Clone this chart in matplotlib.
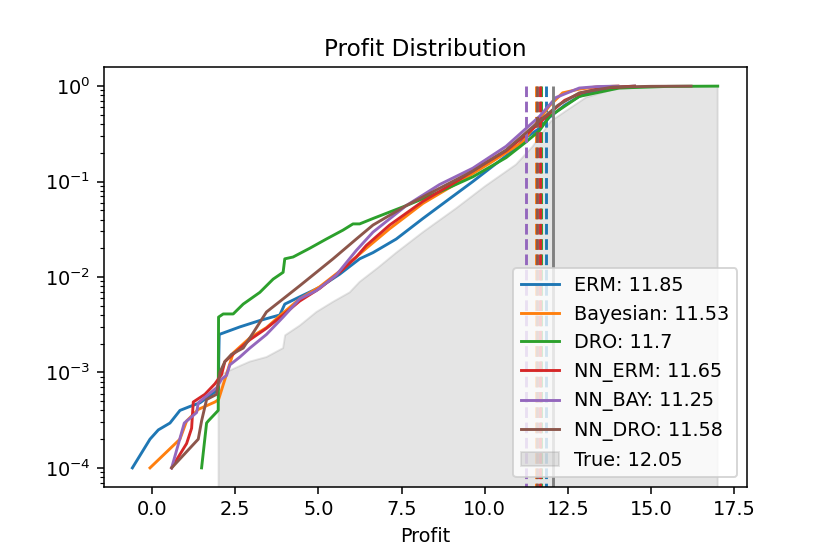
import numpy as np
import matplotlib
matplotlib.use("Agg")
import matplotlib.pyplot as plt

erm_x = [-0.59, -0.06, 0.19, 0.54, 0.84, 1.14, 1.44, 1.79, 1.99, 2.02, 2.64, 3.24, 3.84, 3.99,
         4.44, 5.04, 5.64, 6.24, 6.64, 7.34, 8.14, 8.94, 9.64, 10.24, 10.84, 11.24, 11.64,
         11.94, 12.4, 12.84, 13.3, 13.8, 14.5]
erm_y = [1.0e-4, 2.0e-4, 2.5e-4, 2.95e-4, 4.0e-4, 4.4e-4, 4.8e-4, 5.9e-4, 6.6e-4, 2.5e-3, 3.0e-3,
         3.5e-3, 4.0e-3, 5.2e-3, 6.2e-3, 7.8e-3, 0.0107, 0.0155, 0.018, 0.025, 0.041, 0.066,
         0.10, 0.145, 0.21, 0.29, 0.36, 0.47, 0.63, 0.78, 0.89, 0.97, 1.0]

bay_x = [-0.06, 0.84, 1.04, 1.39, 1.89, 2.0, 2.44, 2.94, 3.44, 3.94, 4.44, 5.04, 5.64, 6.44,
         7.14, 8.14, 9.14, 10.14, 11.14, 11.44, 11.94, 12.34, 12.84, 13.34, 14.0]
bay_y = [1.0e-4, 2.0e-4, 3.1e-4, 4.1e-4, 4.9e-4, 5.2e-4, 1.6e-3, 2.3e-3, 2.95e-3, 4.2e-3,
         5.9e-3, 7.9e-3, 0.0115, 0.020, 0.032, 0.059, 0.095, 0.155, 0.26, 0.36, 0.62, 0.85,
         0.93, 0.98, 1.0]

dro_x = [1.49, 1.64, 1.69, 1.99, 2.0, 2.14, 2.44, 2.74, 3.24, 3.64, 3.94, 3.99, 4.24, 4.74,
         5.24, 5.74, 6.04, 6.24, 6.64, 7.64, 8.64, 9.64, 10.64, 11.24, 11.64, 11.94, 12.84,
         14.04, 15.5, 17.0]
dro_y = [1.0e-4, 2.95e-4, 3.1e-4, 4.0e-4, 3.8e-3, 4.1e-3, 4.1e-3, 5.2e-3, 6.9e-3, 9.5e-3,
         0.0112, 0.0155, 0.0162, 0.020, 0.025, 0.031, 0.036, 0.036, 0.041, 0.056, 0.078,
         0.112, 0.178, 0.26, 0.34, 0.48, 0.78, 0.955, 0.993, 1.0]

nn_erm_x = [0.59, 1.04, 1.19, 1.24, 1.59, 1.89, 2.09, 2.19, 2.39, 2.94, 3.44, 3.94, 4.44, 5.04,
            5.64, 6.14, 6.44, 7.14, 8.14, 9.14, 9.94, 10.64, 11.24, 11.64, 12.0, 12.4, 12.9,
            13.5, 14.5]
nn_erm_y = [1.0e-4, 1.8e-4, 2.6e-4, 4.9e-4, 5.9e-4, 7.6e-4, 9.5e-4, 1.3e-3, 1.5e-3, 2.2e-3,
            2.9e-3, 4.0e-3, 5.6e-3, 7.6e-3, 0.0112, 0.0162, 0.0214, 0.035, 0.062, 0.10, 0.15,
            0.21, 0.31, 0.41, 0.54, 0.71, 0.85, 0.955, 1.0]

nn_bay_x = [0.59, 0.97, 1.34, 1.39, 1.59, 1.94, 2.09, 2.24, 2.34, 2.64, 2.94, 3.44, 3.94, 4.44,
            4.94, 5.54, 6.14, 6.64, 7.64, 8.64, 9.64, 10.64, 11.24, 11.64, 12.14, 12.84, 13.4,
            14.0]
nn_bay_y = [1.0e-4, 2.95e-4, 3.8e-4, 4.8e-4, 5.5e-4, 6.9e-4, 8.5e-4, 9.3e-4, 1.2e-3, 1.45e-3,
            1.8e-3, 2.5e-3, 3.8e-3, 5.9e-3, 7.2e-3, 0.0105, 0.019, 0.0295, 0.056, 0.093, 0.138,
            0.234, 0.36, 0.48, 0.76, 0.955, 0.99, 1.0]

nn_dro_x = [0.59, 1.39, 1.49, 1.64, 1.94, 2.04, 2.19, 2.39, 2.74, 3.04, 3.44, 3.94, 4.44, 4.94,
            5.44, 6.14, 6.64, 7.64, 8.64, 9.64, 10.64, 11.64, 12.2, 12.84, 13.84, 15.0, 16.2]
nn_dro_y = [1.0e-4, 2.0e-4, 3.1e-4, 5.2e-4, 5.9e-4, 1.0e-3, 1.3e-3, 1.55e-3, 1.8e-3, 2.6e-3,
            4.3e-3, 5.9e-3, 8.1e-3, 0.0112, 0.0155, 0.025, 0.035, 0.056, 0.085, 0.129, 0.214,
            0.43, 0.63, 0.85, 0.977, 0.995, 1.0]

true_x = [2.0, 2.34, 2.64, 2.94, 3.44, 3.94, 4.0, 4.44, 4.94, 5.44, 5.94, 6.24, 6.8, 7.34, 8.14,
          9.14, 10.0, 10.94, 11.44, 11.99, 12.44, 13.04, 13.84, 14.84, 16.0, 17.0]
true_y = [9.3e-4, 1.05e-3, 1.17e-3, 1.3e-3, 1.45e-3, 1.8e-3, 2.45e-3, 3.1e-3, 4.3e-3, 5.5e-3,
          6.9e-3, 8.9e-3, 0.0126, 0.018, 0.0295, 0.0525, 0.089, 0.151, 0.234, 0.43, 0.55,
          0.76, 0.92, 0.984, 0.998, 1.0]

labels = ['ERM', 'Bayesian', 'DRO', 'NN_ERM', 'NN_BAY', 'NN_DRO']
means = [11.85, 11.53, 11.7, 11.65, 11.25, 11.58]
true_mean = 12.05

curves = [(erm_x, erm_y), (bay_x, bay_y), (dro_x, dro_y),
          (nn_erm_x, nn_erm_y), (nn_bay_x, nn_bay_y), (nn_dro_x, nn_dro_y)]
colors = ['C0', 'C1', 'C2', 'C3', 'C4', 'C5']

fig = plt.figure(figsize=(830 / 138.4, 554 / 138.4), dpi=138.4)
ax = fig.add_subplot(111)
fig.subplots_adjust(left=0.125, right=0.9, bottom=0.121, top=0.879)

for (xs, ys), lab, m, c in zip(curves, labels, means, colors):
    ax.plot(xs, ys, color=c, label=f'{lab}: {m}')
    ax.vlines(m, 1e-6, 1, colors=c, linestyles='--')

ax.fill_between(true_x, true_y, 1e-6, color='gray', alpha=0.2, label=f'True: {true_mean}')
ax.vlines(true_mean, 1e-6, 1, colors='gray')

ax.set_yscale('log')
ax.set_ylim(10 ** -4.2, 10 ** 0.2)
ax.set_xlim(-1.45, 17.88)
ax.set_title('Profit Distribution')
ax.set_xlabel('Profit')
ax.legend(loc='lower right')

fig.savefig('out.png', dpi=138.4)
